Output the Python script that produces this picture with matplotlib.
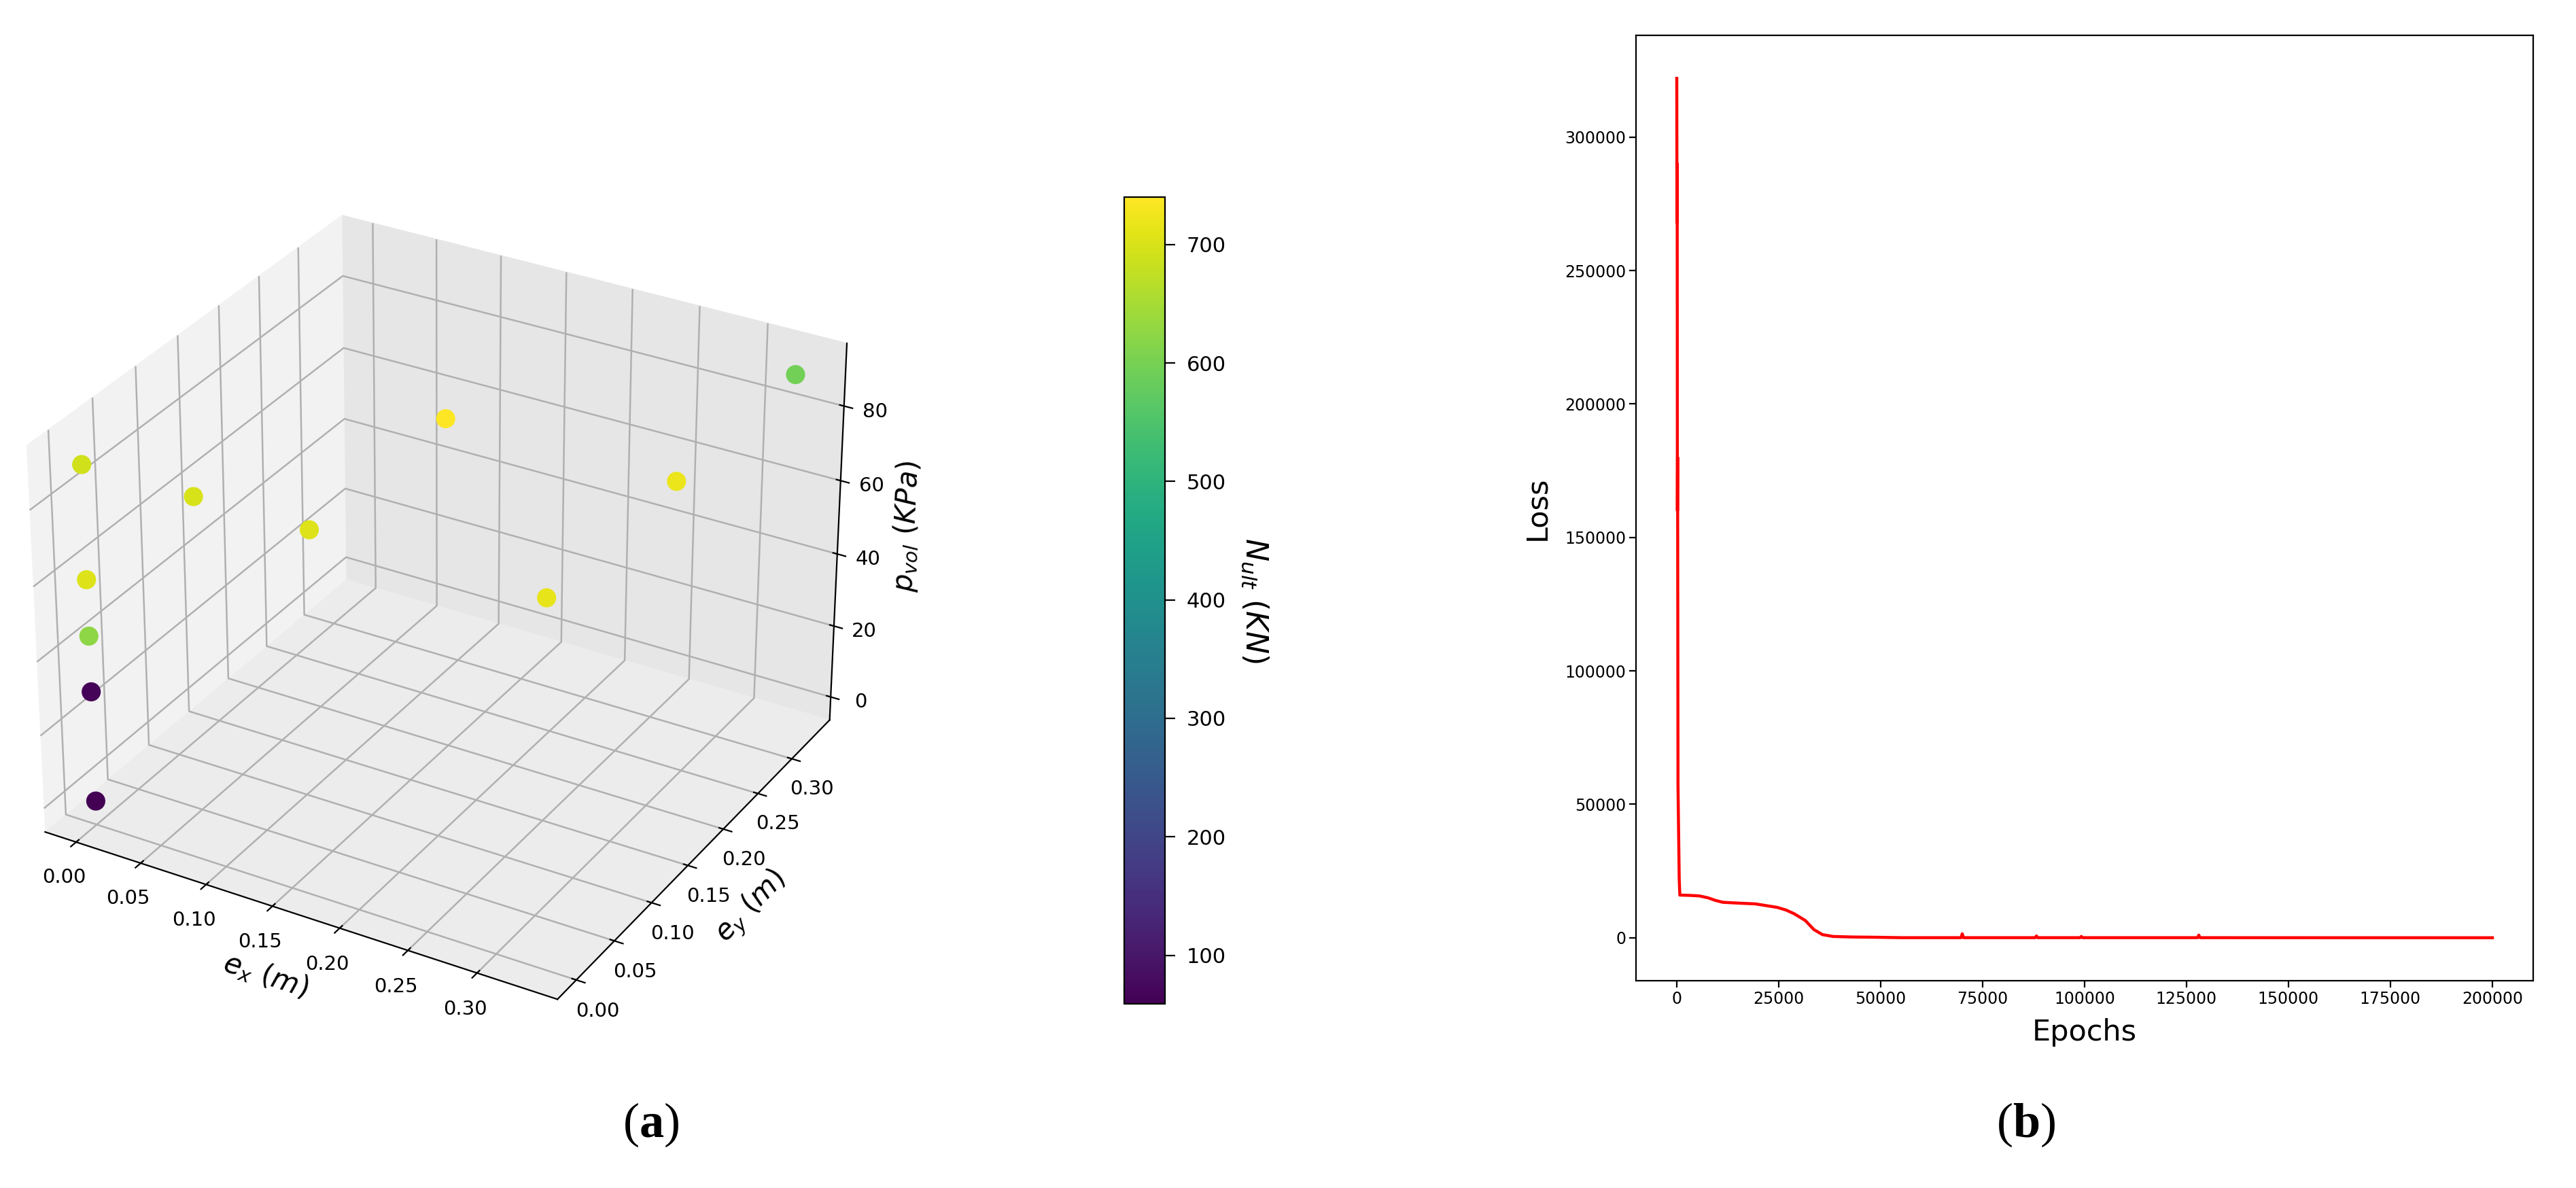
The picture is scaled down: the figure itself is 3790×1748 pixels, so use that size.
import numpy as np
import matplotlib
matplotlib.use('Agg')
import matplotlib.pyplot as plt

W, H = 3791, 1748

# points of panel (a)
ex = [0.0, 0.0, 0.0, 0.0, 0.0, 0.083, 0.167, 0.167, 0.333, 0.333, 0.333]
ey = [0.0, 0.0, 0.0, 0.0, 0.0, 0.0, 0.0, 0.167, 0.0, 0.167, 0.333]
pvol = [0, 30, 45, 60, 90, 90, 90, 90, 90, 90, 90]
nult = [59, 65, 625, 705, 690, 700, 705, 740, 715, 720, 595]
e_ticks = [0.0, 0.05, 0.10, 0.15, 0.20, 0.25, 0.30]
cbar_ticks = [100, 200, 300, 400, 500, 600, 700]

# loss curve of panel (b)
epochs = [0, 50, 100, 150, 200, 300, 600, 750, 3000, 5500, 7600, 9500, 11300, 15000,
          19300, 24600, 26800, 28800, 31500, 33600, 35700, 38300, 43000, 49000, 55000,
          69700, 70000, 70300, 87900, 88200, 88500, 98900, 99200, 99500, 127700,
          128000, 128300, 160000, 200000]
loss = [322000, 268000, 290000, 160000, 180000, 57000, 22000, 16000, 15900, 15700, 15000,
        14000, 13300, 13000, 12700, 11400, 10400, 9000, 6500, 3100, 1200, 500, 300, 200,
        50, 50, 1500, 50, 50, 700, 50, 50, 500, 50, 50, 1000, 50, 30, 20]

plt.rcParams['mathtext.fontset'] = 'custom'
plt.rcParams['mathtext.rm'] = 'DejaVu Sans'
plt.rcParams['mathtext.it'] = 'DejaVu Sans:italic'
plt.rcParams['mathtext.bf'] = 'Liberation Serif:bold'
plt.rcParams['axes.linewidth'] = 1.6
plt.rcParams['grid.linewidth'] = 1.8
plt.rcParams['xtick.major.width'] = 1.6
plt.rcParams['ytick.major.width'] = 1.6
plt.rcParams['xtick.major.size'] = 6
plt.rcParams['ytick.major.size'] = 6

fig = plt.figure(figsize=(W / 100, H / 100), dpi=100)


def box(x0, y0, x1, y1):
    # pixel box (y from the top) to figure fractions
    return [x0 / W, 1 - y1 / H, (x1 - x0) / W, (y1 - y0) / H]


# (a)
ax = fig.add_axes(box(-35, 213, 1307, 1555), projection='3d')
sc = ax.scatter(ex, ey, pvol, c=nult, cmap='viridis', s=370, alpha=1, depthshade=False)
ax.xaxis.set_pane_color((0.95, 0.95, 0.95, 1))
ax.yaxis.set_pane_color((0.90, 0.90, 0.90, 1))
ax.zaxis.set_pane_color((0.925, 0.925, 0.925, 1))
ax.set_xticks(e_ticks)
ax.set_yticks(e_ticks)
ax.set_xlabel(r'$e_x\ (m)$', fontsize=30, labelpad=26)
ax.set_ylabel(r'$e_y\ (m)$', fontsize=30, labelpad=30)
ax.set_zlabel(r'$p_{vol}\ (KPa)$', fontsize=30, labelpad=24)
ax.tick_params(labelsize=21, pad=12)

cax = fig.add_axes(box(1654, 290, 1714, 1477))
cb = fig.colorbar(sc, cax=cax)
cb.set_ticks(cbar_ticks)
cb.ax.tick_params(labelsize=22, length=11, pad=12)
cb.set_label(r'$N_{ult}\ (KN)$', fontsize=32, rotation=270, labelpad=46)

# (b)
ax2 = fig.add_axes(box(2407, 52, 3727, 1443))
ax2.plot(epochs, loss, color='red', lw=3.2)
ax2.set_xlabel('Epochs', fontsize=31, labelpad=12)
ax2.set_ylabel('Loss', fontsize=31, labelpad=14)
ax2.tick_params(labelsize=17, length=7)

fig.text(958 / W, 1 - 1655 / H, r'($\mathbf{a}$)', family='Liberation Serif', fontsize=52,
         ha='center', va='center')
fig.text(2981 / W, 1 - 1655 / H, r'($\mathbf{b}$)', family='Liberation Serif', fontsize=52,
         ha='center', va='center')

fig.savefig('out.png', dpi=100)
